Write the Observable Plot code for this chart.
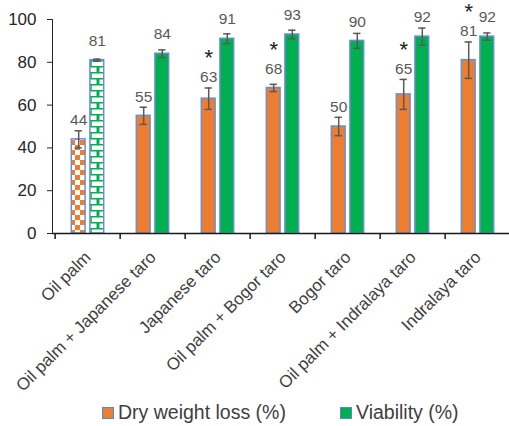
<!DOCTYPE html>
<html><head><meta charset="utf-8">
<script src="https://cdn.jsdelivr.net/npm/d3@7"></script>
<script src="https://cdn.jsdelivr.net/npm/@observablehq/plot@0.6"></script>
<style>
body{margin:0;background:#fff;font-family:"Liberation Sans",Arial,sans-serif;}
#wrap{position:relative;width:509px;height:426px;overflow:hidden;}
#legend{position:absolute;left:0;top:398px;width:509px;height:28px;font-size:19.5px;color:#404040;}
.item{position:absolute;top:3px;display:flex;align-items:center;white-space:nowrap;}
.sw{width:10px;height:10px;border:1.5px solid #5B86D0;margin-right:4px;}
</style></head><body>
<div id="wrap"><div id="chart"></div><div id="legend"></div></div>
<script>
const categories = ["Oil palm", "Oil palm + Japanese taro", "Japanese taro", "Oil palm + Bogor taro", "Bogor taro", "Oil palm + Indralaya taro", "Indralaya taro"];
const dryWeightLoss = [44, 55, 63, 68, 50, 65, 81];
const dryWeightLossError = [4, 4, 5, 1.7, 4.3, 7, 8.5];
const viability = [81, 84, 91, 93, 90, 92, 92];
const viabilityError = [0.5, 1.8, 2.3, 2, 3.5, 4, 1.7];
const significant = [false, false, true, true, false, true, true];
const yTicks = [0, 20, 40, 60, 80, 100];
const seriesNames = ["Dry weight loss (%)", "Viability (%)"];
const seriesColors = ["#ED7D31", "#00B050"];

const W = 509, H = 398, ML = 52, MR = -3, MT = 19, MB = 165;
const BW = (W - ML - MR) / categories.length;
const OFF = 9.3;      // half distance between paired bar centres (px)
const BARW = 14.5;    // bar width (px)
const CAP = 4;        // half cap width

const rows = categories.map((c, i) => ({
  category: c,
  dwl: dryWeightLoss[i], dwlErr: dryWeightLossError[i],
  via: viability[i], viaErr: viabilityError[i],
  sig: significant[i],
  dwlFill: i === 0 ? "url(#checker)" : seriesColors[0],
  viaFill: i === 0 ? "url(#brick)" : seriesColors[1]
}));
const labelY = (v, e) => Math.max(v + 9, v + e + 5);

const inL = s => BW / 2 + s * OFF - BARW / 2;
const inR = s => BW / 2 - s * OFF - BARW / 2;

const barStroke = "#6A8FD3";
const errColor = "#595959";

const plot = Plot.plot({
  width: W, height: H,
  marginTop: MT, marginLeft: ML, marginRight: MR, marginBottom: MB,
  style: {fontFamily: '"Liberation Sans", Arial, sans-serif', fontSize: "17px", color: "#262626", background: "white"},
  x: {domain: categories, padding: 0},
  y: {domain: [0, 100], ticks: yTicks, tickSize: 5, tickPadding: 11, line: true, label: null},
  color: {type: "identity"},
  marks: [
    Plot.barY(rows, {x: "category", y: "dwl", fill: "dwlFill", stroke: barStroke, strokeWidth: 1.5, insetLeft: inL(-1), insetRight: inR(-1)}),
    Plot.barY(rows, {x: "category", y: "via", fill: "viaFill", stroke: barStroke, strokeWidth: 1.5, insetLeft: inL(1), insetRight: inR(1)}),
    Plot.ruleX(rows, {x: "category", y1: d => d.dwl - d.dwlErr, y2: d => d.dwl + d.dwlErr, dx: -OFF, stroke: errColor, strokeWidth: 1.5}),
    Plot.ruleX(rows, {x: "category", y1: d => d.via - d.viaErr, y2: d => d.via + d.viaErr, dx: OFF, stroke: errColor, strokeWidth: 1.5}),
    Plot.tickY(rows, {x: "category", y: d => d.dwl + d.dwlErr, insetLeft: BW / 2 - OFF - CAP, insetRight: BW / 2 + OFF - CAP, stroke: errColor, strokeWidth: 1.5}),
    Plot.tickY(rows, {x: "category", y: d => d.dwl - d.dwlErr, insetLeft: BW / 2 - OFF - CAP, insetRight: BW / 2 + OFF - CAP, stroke: errColor, strokeWidth: 1.5}),
    Plot.tickY(rows, {x: "category", y: d => d.via + d.viaErr, insetLeft: BW / 2 + OFF - CAP, insetRight: BW / 2 - OFF - CAP, stroke: errColor, strokeWidth: 1.5}),
    Plot.tickY(rows, {x: "category", y: d => d.via - d.viaErr, insetLeft: BW / 2 + OFF - CAP, insetRight: BW / 2 - OFF - CAP, stroke: errColor, strokeWidth: 1.5}),
    Plot.text(rows, {x: "category", y: d => labelY(d.dwl, d.dwlErr), text: d => String(d.dwl), dx: -OFF, fill: "#595959", fontSize: 15.5, lineAnchor: "middle"}),
    Plot.text(rows, {x: "category", y: d => labelY(d.via, d.viaErr), text: d => String(d.via), dx: OFF, fill: "#595959", fontSize: 15.5, lineAnchor: "middle"}),
    Plot.text(rows.filter(d => d.sig), {x: "category", y: d => labelY(d.dwl, d.dwlErr), text: () => "*", dx: -OFF, dy: -19, fill: "#222", fontSize: 22, lineAnchor: "middle"}),
    Plot.ruleY([0], {stroke: "#1a1a1a", strokeWidth: 1.5}),
    Plot.ruleX(categories, {x: d => d, y1: 0, y2: 0, insetBottom: -6, dx: -BW / 2, stroke: "#1a1a1a", strokeWidth: 1.5}),
    Plot.axisX({tickSize: 0, tickPadding: 21, tickRotate: -45, fontSize: 17, fill: "#404040", label: null})
  ]
});

const svg = d3.select(plot);
const defs = svg.insert("defs", ":first-child");
const ck = defs.append("pattern").attr("id", "checker").attr("patternUnits", "userSpaceOnUse").attr("width", 10).attr("height", 10);
ck.append("rect").attr("width", 10).attr("height", 10).attr("fill", "#fff");
ck.append("rect").attr("width", 5).attr("height", 5).attr("fill", seriesColors[0]);
ck.append("rect").attr("x", 5).attr("y", 5).attr("width", 5).attr("height", 5).attr("fill", seriesColors[0]);
const br = defs.append("pattern").attr("id", "brick").attr("patternUnits", "userSpaceOnUse").attr("width", 14).attr("height", 12);
br.append("rect").attr("width", 14).attr("height", 12).attr("fill", "#fff");
br.append("path").attr("d", "M0,0.75H14M0,6.75H14M7,0.75V6.75M0.75,6.75V12.75M13.25,6.75V12.75").attr("stroke", seriesColors[1]).attr("stroke-width", 1.5).attr("fill", "none");

document.getElementById("chart").appendChild(plot);

const legend = document.getElementById("legend");
const lefts = [102, 340];
seriesNames.forEach((name, i) => {
  const it = document.createElement("div");
  it.className = "item";
  it.style.left = lefts[i] + "px";
  const sw = document.createElement("span");
  sw.className = "sw";
  sw.style.background = seriesColors[i];
  const tx = document.createElement("span");
  tx.textContent = name;
  it.appendChild(sw); it.appendChild(tx);
  legend.appendChild(it);
});
</script>
</body></html>
